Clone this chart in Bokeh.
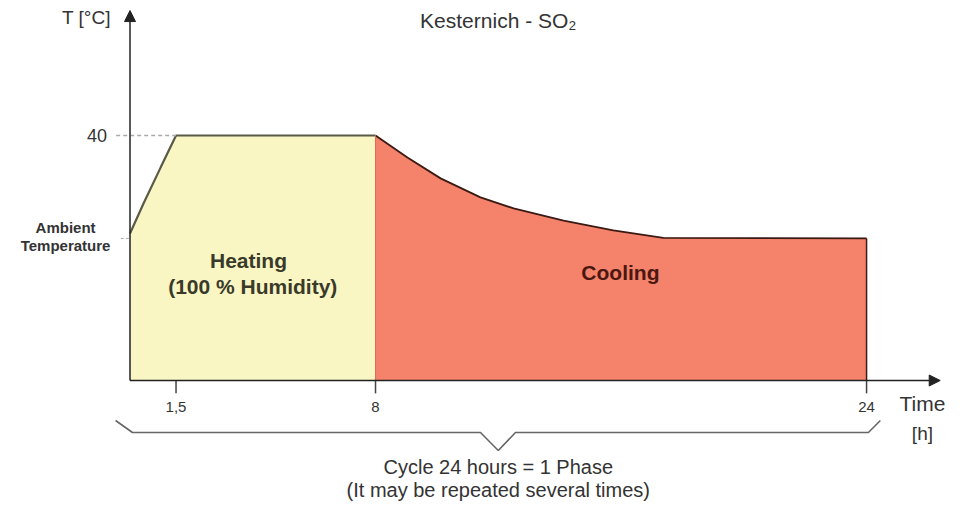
from bokeh.plotting import figure
from bokeh.models import Range1d, Label, Arrow, NormalHead
from bokeh.embed import file_html
from bokeh.resources import INLINE

# ---- data (time in h, temperature in °C) ----
ambient = 23.2
t_max = 40
heat_t = [0, 0.44, 1.0, 1.5, 8]
heat_T = [24.0, 28.9, 34.8, 40, 40]
cool_t = [8, 9.04, 10.12, 11.42, 12.5, 14.13, 15.75, 17.38, 24]
cool_T = [40, 36.4, 33.0, 29.9, 28.1, 26.1, 24.5, 23.3, 23.2]
tick_t = [1.5, 8, 24]
tick_labels = ["1,5", "8", "24"]

FONT = "Liberation Sans"
W, H = 952, 504
px_per_h = 30.69
px_per_C = 6.125
x0_px = 129.5   # frame px of t=0
y0_px = 380.0   # frame px (from top) of T=0

p = figure(width=W, height=H, output_backend="svg", toolbar_location=None,
           x_range=Range1d(-x0_px / px_per_h, (W - x0_px) / px_per_h),
           y_range=Range1d((y0_px - H) / px_per_C, y0_px / px_per_C),
           min_border=0)
p.axis.visible = False
p.grid.visible = False
p.outline_line_color = None
p.background_fill_color = "white"
p.border_fill_color = "white"

# filled areas
p.patch([heat_t[0]] + heat_t + [heat_t[-1]], [0] + heat_T + [0],
        fill_color="#f9f6c4", line_color=None)
p.patch([cool_t[0]] + cool_t + [cool_t[-1]], [0] + cool_T + [0],
        fill_color="#f5826b", line_color=None)

# outlines
p.line(heat_t, heat_T, line_color="#5a5a48", line_width=2.2)
p.line(cool_t, cool_T, line_color="#3a1a12", line_width=1.8)
p.line([cool_t[-1], cool_t[-1]], [0, cool_T[-1]], line_color="#3a1a12", line_width=1.5)
p.line([heat_t[-1], heat_t[-1]], [0, heat_T[-1]], line_color="#e06a55", line_width=1)

# guide dashes
p.line([-0.45, heat_t[3]], [t_max, t_max], line_color="#aaaaaa", line_width=1.5, line_dash="4 3")
p.line([-0.3, 0], [ambient, ambient], line_color="#aaaaaa", line_width=1, line_dash="3 2")

# axes with arrows
p.add_layout(Arrow(x_start=0, y_start=0, x_end=26.4, y_end=0, line_color="#222222", line_width=1.5,
                   end=NormalHead(size=11, fill_color="#222222", line_color="#222222")))
p.add_layout(Arrow(x_start=0, y_start=0, x_end=0, y_end=60.4, line_color="#222222", line_width=1.5,
                   end=NormalHead(size=11, fill_color="#222222", line_color="#222222")))

def lab(x, y, text, size, color="#333333", bold=False, align="center"):
    p.add_layout(Label(x=x, y=y, text=text, text_align=align, text_baseline="middle",
                       text_font=FONT, text_font_size=size, text_color=color,
                       text_font_style="bold" if bold else "normal"))

# ticks
for t, tl in zip(tick_t, tick_labels):
    p.line([t, t], [0, -2.1], line_color="#444444", line_width=1.5)
    lab(t, -4.4, tl, "15px", "#333333")

# brace
mid = cool_t[0] + 4
p.line([-0.47, 0.08, mid - 0.58, mid, mid + 0.56, 24.06, 24.45],
       [-6.53, -8.49, -8.49, -11.43, -8.49, -8.49, -6.53],
       line_color="#666666", line_width=1.6)

lab(12.0, 58.8, "Kesternich - SO₂", "21px", "#333333")
lab(-1.42, 59.2, "T [°C]", "19px", "#333333")
lab(-0.75, t_max, "40", "18px", "#333333", align="right")
lab(-2.1, 24.9, "Ambient", "15px", "#333333", bold=True)
lab(-2.1, 22.1, "Temperature", "15px", "#333333", bold=True)
lab(3.86, 19.6, "Heating", "21px", "#3a3a2a", bold=True)
lab(4.0, 15.3, "(100 % Humidity)", "21px", "#3a3a2a", bold=True)
lab(15.98, 17.6, "Cooling", "21px", "#4a1810", bold=True)
lab(25.82, -3.7, "Time", "21px", "#333333")
lab(25.82, -8.6, "[h]", "19px", "#333333")
lab(12.0, -14.2, "Cycle 24 hours = 1 Phase", "20px", "#333333")
lab(12.0, -17.8, "(It may be repeated several times)", "20px", "#333333")

open("out.html", "w").write(file_html(p, INLINE))
